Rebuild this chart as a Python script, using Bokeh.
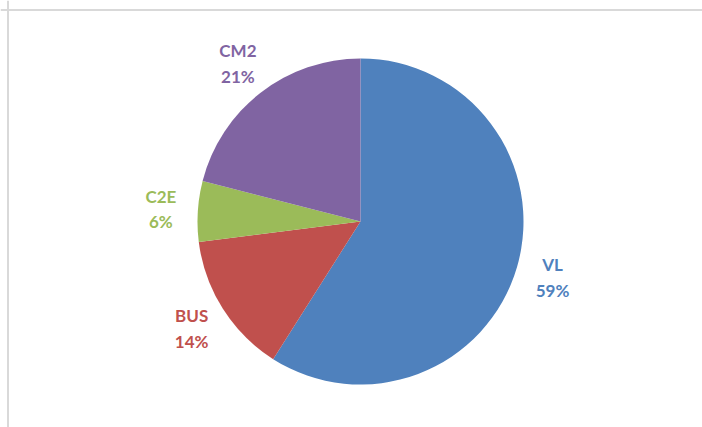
import math
from bokeh.plotting import figure
from bokeh.models import ColumnDataSource, Span
from bokeh.core.properties import value
from bokeh.embed import file_html
from bokeh.resources import INLINE

categories = ["VL", "BUS", "C2E", "CM2"]
shares = [59, 14, 6, 21]
colors = ["#4F81BD", "#C0504D", "#9BBB59", "#8064A2"]

W, H = 702, 427
cx, cy, r = 360, 206, 163
label_r = 200

starts, ends, lx, ly, labels = [], [], [], [], []
a = math.pi / 2
total = sum(shares)
for c, s in zip(categories, shares):
    span = 2 * math.pi * s / total
    starts.append(a)
    ends.append(a - span)
    mid = a - span / 2
    lx.append(cx + label_r * math.cos(mid))
    ly.append(cy + label_r * math.sin(mid))
    labels.append(f"{c}\n{s}%")
    a -= span

src = ColumnDataSource(dict(start=starts, end=ends, color=colors,
                            lx=lx, ly=ly, label=labels))

p = figure(width=W, height=H, x_range=(0, W), y_range=(0, H),
           output_backend="svg", toolbar_location=None, min_border=0)
p.axis.visible = False
p.grid.visible = False
p.outline_line_color = None

p.wedge(x=cx, y=cy, radius=r, start_angle="start", end_angle="end",
        direction="clock", fill_color="color", line_color=None, source=src)

p.text(x="lx", y="ly", text="label", text_color="color", source=src,
       text_font=value("Lato"), text_font_style="bold", text_font_size="17px",
       text_align="center", text_baseline="middle", text_line_height=1.22)

p.add_layout(Span(location=H - 9.5, dimension="width", line_color="#D9D9D9", line_width=2))
p.add_layout(Span(location=7.5, dimension="height", line_color="#D9D9D9", line_width=2))

open("out.html", "w").write(file_html(p, INLINE))
